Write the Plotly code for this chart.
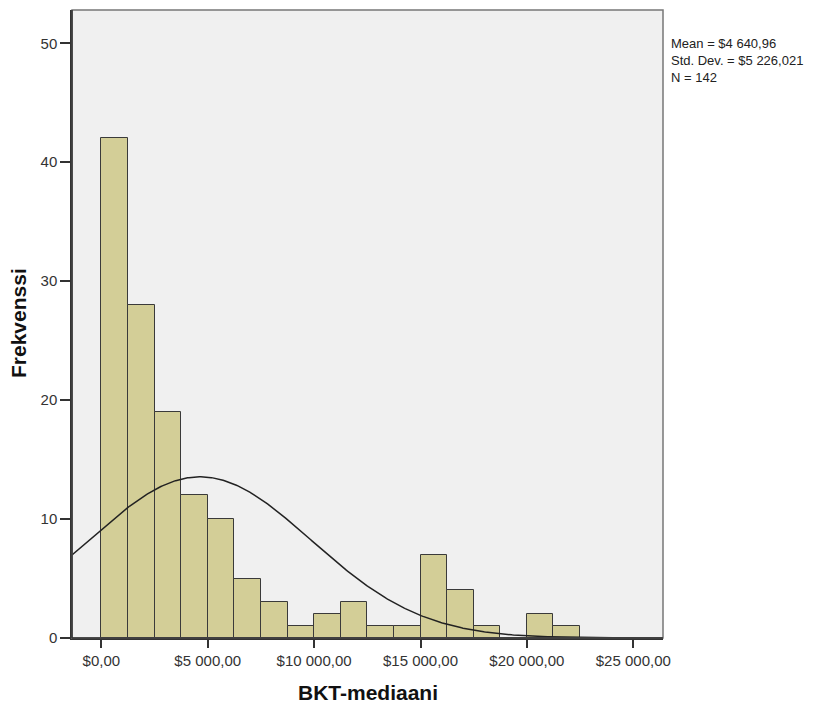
import numpy as np
import plotly.graph_objects as go

# Data
bin_start = 0.0
bin_width = 1250.0
counts = [42, 28, 19, 12, 10, 5, 3, 1, 2, 3, 1, 1, 7, 4, 1, 0, 2, 1]
mean_val = 4640.96
std_val = 5226.021
n_val = 142
x_tick_vals = [0, 5000, 10000, 15000, 20000, 25000]
x_tick_text = ["$0,00", "$5 000,00", "$10 000,00", "$15 000,00", "$20 000,00", "$25 000,00"]
y_tick_vals = [0, 10, 20, 30, 40, 50]
stats_lines = ["Mean = $4 640,96", "Std. Dev. = $5 226,021", "N = 142"]

x_range = [-1377, 26396]
y_range = [0, 52.8]

centers = [bin_start + bin_width * (i + 0.5) for i in range(len(counts))]

# Normal curve scaled to histogram
xc = np.linspace(x_range[0], x_range[1], 400)
yc = n_val * bin_width / (std_val * np.sqrt(2 * np.pi)) * np.exp(-0.5 * ((xc - mean_val) / std_val) ** 2)

fig = go.Figure()
fig.add_trace(go.Bar(
    x=centers, y=counts, width=bin_width,
    marker=dict(color="#D3CE97", line=dict(color="#3a3a3a", width=1)),
    hoverinfo="x+y", showlegend=False,
))
fig.add_trace(go.Scatter(
    x=xc, y=yc, mode="lines",
    line=dict(color="#222222", width=1.5), showlegend=False, hoverinfo="skip",
))

font_fam = "Liberation Sans, Arial, sans-serif"

annotations = [
    dict(
        xref="paper", yref="paper", x=1.0125, y=0.920,
        xanchor="left", yanchor="middle", align="left", showarrow=False,
        borderpad=0,
        text="<br>".join(stats_lines), font=dict(size=13, color="#222"),
    ),
    dict(
        xref="paper", yref="paper", x=0.5008, y=0, yshift=-54,
        xanchor="center", yanchor="middle", showarrow=False,
        text="<b>BKT-mediaani</b>", font=dict(size=21, color="#111"),
    ),
    dict(
        xref="paper", yref="paper", x=0, y=0.5016, xshift=-53,
        xanchor="center", yanchor="middle", showarrow=False, textangle=-90,
        text="<b>Frekvenssi</b>", font=dict(size=21, color="#111"),
    ),
]

fig.update_layout(
    width=824, height=696,
    margin=dict(l=64, r=169, t=2, b=66, autoexpand=False),
    paper_bgcolor="white",
    plot_bgcolor="#F0F0F0",
    font=dict(family=font_fam, size=15, color="#222"),
    bargap=0,
    xaxis=dict(
        range=x_range, tickvals=x_tick_vals, ticktext=x_tick_text,
        ticks="outside", ticklen=8, tickcolor="#333", tickwidth=1.5,
        showgrid=False, zeroline=False, showline=True, linecolor="#333", linewidth=1.5,
        tickfont=dict(size=15, color="#333"), automargin=False,
    ),
    yaxis=dict(
        range=y_range, tickvals=y_tick_vals,
        ticks="outside", ticklen=10, tickcolor="#333", tickwidth=1.5,
        showgrid=False, zeroline=False, showline=True, linecolor="#333", linewidth=1.5,
        tickfont=dict(size=15, color="#333"), automargin=False,
    ),
    shapes=[
        dict(type="rect", xref="paper", yref="paper", x0=0, x1=1, y0=0, y1=1,
             line=dict(color="#777", width=1.5), fillcolor="rgba(0,0,0,0)", layer="above"),
        dict(type="line", xref="paper", yref="paper", x0=0, x1=0, y0=0, y1=1,
             line=dict(color="#333", width=1.5), layer="above"),
        dict(type="line", xref="paper", yref="paper", x0=0, x1=1, y0=0, y1=0,
             line=dict(color="#333", width=1.5), layer="above"),
    ],
    annotations=annotations,
)

fig.write_html("out.html")
